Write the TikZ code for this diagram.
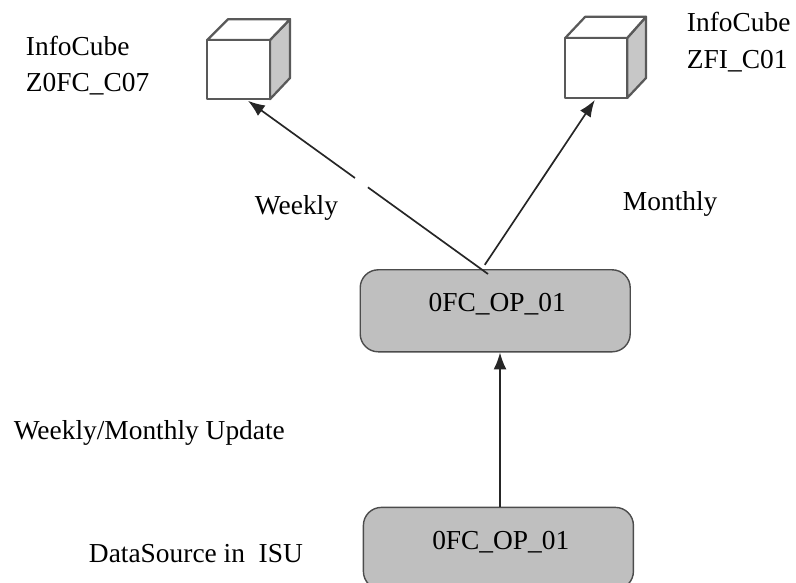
\documentclass[tikz,border=0pt]{standalone}
\usepackage{fontspec}
\setmainfont{Liberation Serif}
\usetikzlibrary{arrows.meta}
\tikzset{
	cubeface/.style={draw=black!65,line width=1.6pt,line join=round},
	cubeside/.style={cubeface,fill=black!22},
	opbox/.style={draw=black!70,fill=black!25,line width=1pt,rounded corners=0.45cm,minimum width=6.75cm,minimum height=2.05cm},
	oplabel/.style={font=\fontsize{19.5}{23}\selectfont},
	txtlabel/.style={font=\fontsize{19.5}{23}\selectfont,align=left},
	cubelabel/.style={font=\fontsize{19.5}{26}\selectfont,align=left},
	flow/.style={draw=black!85,line width=1.2pt,-{Latex[length=0.42cm,width=0.32cm]}}
}
\begin{document}
\begin{tikzpicture}
	\useasboundingbox (0,0) rectangle (19.9,14.55);
	\begin{scope}
	\clip (0,0) rectangle (19.9,14.55);

	%boxes
	\node[opbox] (opmid) at (12.38,6.78) {};
	\node[opbox] (opbot) at (12.46,0.84) {};
	\node[oplabel] (opmidtxt) at (12.43,6.94) {0FC\_OP\_01};
	\node[oplabel] (opbottxt) at (12.52,1.0) {0FC\_OP\_01};

	%cubes
	\draw[cubeside] (6.75,12.07)--(7.25,12.6)--(7.25,14.07)--(6.75,13.55)--cycle;
	\draw[cubeface,fill=white] (5.18,13.55)--(5.7,14.07)--(7.25,14.07)--(6.75,13.55)--cycle;
	\node[cubeface,fill=white,minimum width=1.57cm,minimum height=1.48cm,inner sep=0pt] (cubea) at (5.96,12.81) {};
	\draw[cubeside] (15.68,12.1)--(16.15,12.6)--(16.15,14.13)--(15.68,13.6)--cycle;
	\draw[cubeface,fill=white] (14.13,13.6)--(14.63,14.13)--(16.15,14.13)--(15.68,13.6)--cycle;
	\node[cubeface,fill=white,minimum width=1.55cm,minimum height=1.5cm,inner sep=0pt] (cubeb) at (14.9,12.85) {};

	%arrows
	\coordinate (starta) at (12.2,7.7);
	\coordinate (startb) at (12.12,7.93);
	\coordinate (startc) at (12.5,0.84);
	\coordinate (enda) at (6.2,12.03);
	\coordinate (endb) at (14.87,12.05);
	\draw[flow] (startc |- opbot.north)--(startc |- opmid.south);
	\draw[flow] (startb)--(endb);
	\draw[flow] (starta)--(enda);
	\fill[white] (9.04,9.99) circle (0.2cm);	%manual fill - gap in line

	%labels
	\node[cubelabel,anchor=west] (lblcubea) at (0.525,12.91) {InfoCube\\Z0FC\_C07};
	\node[cubelabel,anchor=west] (lblcubeb) at (17.05,13.5) {InfoCube\\ZFI\_C01};
	\node[txtlabel,anchor=west] (lblweekly) at (6.25,9.35) {Weekly};
	\node[txtlabel,anchor=west] (lblmonthly) at (15.45,9.45) {Monthly};
	\node[txtlabel,anchor=west] (lblupdate) at (0.22,3.72) {Weekly/Monthly Update};
	\node[txtlabel,anchor=west] (lblsource) at (2.1,0.72) {DataSource in\ \ ISU};
	\end{scope}
\end{tikzpicture}
\end{document}
